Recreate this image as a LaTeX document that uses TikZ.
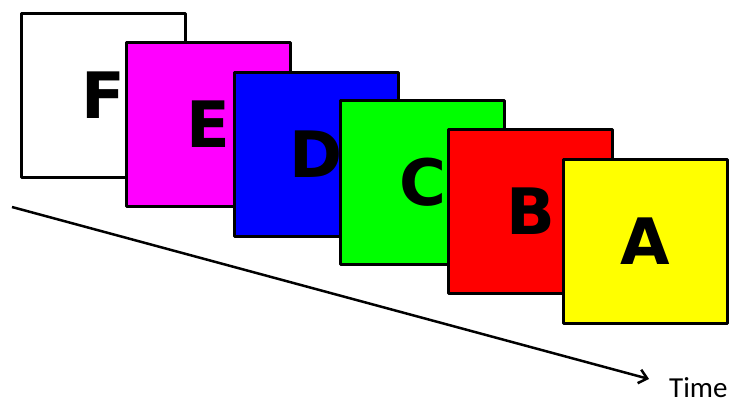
\documentclass[tikz,border=0pt]{standalone}
\usepackage{fontspec}
\setmainfont{DejaVu Sans}
\newfontfamily\timefont{Carlito}
\usetikzlibrary{arrows.meta}
\tikzset{
  frame/.style={draw=black, line width=3pt, line join=round, minimum width=164pt, minimum height=164pt, inner sep=0pt, anchor=north west,
    font=\fontsize{64}{64}\selectfont\bfseries, text=black},
}
\begin{document}
\begin{tikzpicture}[x=1pt,y=-1pt]
\useasboundingbox (0,0) rectangle (734,405);
\node[frame, fill=white]                (F) at (20,12)   {F};
\node[frame, fill={rgb,255:red,255;green,0;blue,255}] (E) at (125,41)  {E};
\node[frame, fill={rgb,255:red,0;green,0;blue,255}]   (D) at (233,71)  {D};
\node[frame, fill={rgb,255:red,0;green,255;blue,0}]   (C) at (339,99)  {C};
\node[frame, fill={rgb,255:red,255;green,0;blue,0}]   (B) at (447,128) {B};
\node[frame, fill={rgb,255:red,255;green,255;blue,0}] (A) at (562,158) {A};
\coordinate (s) at (12,207);
\coordinate (e) at (649,379);
\draw[line width=2.5pt, -{Straight Barb[length=8pt,width=14pt,line width=2.5pt]}] (s) -- (e);
\node[anchor=base west, inner sep=0pt, font=\timefont\fontsize{29}{29}\selectfont] (T) at (669,397) {Time};
\end{tikzpicture}
\end{document}
